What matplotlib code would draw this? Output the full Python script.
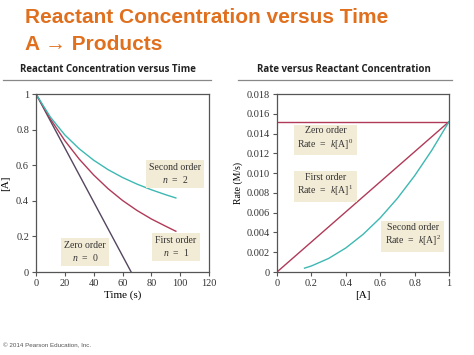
import matplotlib.pyplot as plt
from matplotlib.lines import Line2D

# values
t = [0, 10, 20, 30, 40, 50, 60, 70, 80, 90, 97]
zero_t = [0, 66]
zero_A = [1.0, 0.0]
first_A = [1.0, 0.859, 0.738, 0.634, 0.545, 0.468, 0.402, 0.346, 0.298, 0.257, 0.229]
second_A = [1.0, 0.870, 0.770, 0.692, 0.628, 0.575, 0.531, 0.494, 0.462, 0.434, 0.416]

conc = [0, 1]
rate_zero = [0.0152, 0.0152]
rate_first = [0.0, 0.0152]
conc2 = [0.16, 0.2, 0.3, 0.4, 0.5, 0.6, 0.7, 0.8, 0.9, 1.0]
rate_second = [0.00039, 0.00061, 0.00137, 0.00243, 0.0038, 0.00547, 0.00745, 0.00973, 0.01231, 0.0152]

left_yticks = [0, 0.2, 0.4, 0.6, 0.8, 1]
left_ylabels = ['0', '0.2', '0.4', '0.6', '0.8', '1']
left_xticks = [0, 20, 40, 60, 80, 100, 120]
right_yticks = [0, 0.002, 0.004, 0.006, 0.008, 0.010, 0.012, 0.014, 0.016, 0.018]
right_ylabels = ['0', '0.002', '0.004', '0.006', '0.008', '0.010', '0.012', '0.014', '0.016', '0.018']
right_xticks = [0, 0.2, 0.4, 0.6, 0.8, 1]
right_xlabels = ['0', '0.2', '0.4', '0.6', '0.8', '1']

ORANGE = '#e0701e'
TEAL = '#3db8b2'
MAROON = '#b03a58'
PURPLE = '#55465f'
BOX = dict(boxstyle='square,pad=0.35', facecolor='#f2ebd6', edgecolor='none')
SERIF = 'Liberation Serif'

plt.rcParams['mathtext.fontset'] = 'custom'
plt.rcParams['mathtext.rm'] = SERIF
plt.rcParams['mathtext.it'] = SERIF + ':italic'

fig = plt.figure(figsize=(4.74, 3.55), dpi=100)

fig.text(25 / 474, 1 - 23 / 355, 'Reactant Concentration versus Time', color=ORANGE,
         fontsize=15, fontweight='bold', family='Liberation Sans', va='baseline')
fig.text(25 / 474, 1 - 50 / 355, 'A \u2192 Products', color=ORANGE,
         fontsize=15, fontweight='bold', family='Liberation Sans', va='baseline')

fig.text(108 / 474, 1 - 70 / 355, 'Reactant Concentration versus Time', fontsize=7,
         fontweight='bold', family='Open Sans', ha='center', va='center', color='#222222')
fig.text(344 / 474, 1 - 70 / 355, 'Rate versus Reactant Concentration', fontsize=7,
         fontweight='bold', family='Open Sans', ha='center', va='center', color='#222222')
fig.add_artist(Line2D([3 / 474, 211 / 474], [1 - 80 / 355] * 2, color='#888888', lw=0.9))
fig.add_artist(Line2D([238 / 474, 452 / 474], [1 - 80 / 355] * 2, color='#888888', lw=0.9))

fig.text(3 / 474, 1 - 346 / 355, '\u00a9 2014 Pearson Education, Inc.', fontsize=4.5,
         color='#555555', family='Liberation Sans', va='center')


def style(ax):
    for s in ax.spines.values():
        s.set_color('#555555')
        s.set_linewidth(0.9)
    ax.tick_params(direction='out', length=3, width=0.8, color='#555555',
                   labelsize=7.5, pad=2, labelcolor='#333333')
    for lab in ax.get_xticklabels() + ax.get_yticklabels():
        lab.set_family(SERIF)


# left chart
ax1 = fig.add_axes([36 / 474, 1 - 272 / 355, 173 / 474, 178 / 355])
ax1.plot(zero_t, zero_A, color=PURPLE, lw=1.0)
ax1.plot(t, first_A, color=MAROON, lw=1.0)
ax1.plot(t, second_A, color=TEAL, lw=1.0)
ax1.set_xlim(0, 120)
ax1.set_ylim(0, 1)
ax1.set_xticks(left_xticks)
ax1.set_yticks(left_yticks)
ax1.set_yticklabels(left_ylabels)
ax1.set_xlabel('Time (s)', family=SERIF, fontsize=8, labelpad=2)
ax1.set_ylabel('[A]', family=SERIF, fontsize=8, labelpad=4)
style(ax1)
kw = dict(family=SERIF, fontsize=7, ha='center', va='center', bbox=BOX,
          linespacing=1.2, color='#333333')
ax1.text(96.4, 0.55, 'Second order\n$n$  =  2', **kw)
ax1.text(97, 0.14, 'First order\n$n$  =  1', **kw)
ax1.text(34, 0.112, 'Zero order\n$n$  =  0', **kw)

# right chart
ax2 = fig.add_axes([277 / 474, 1 - 272 / 355, 172 / 474, 178 / 355])
ax2.plot(conc, rate_zero, color=MAROON, lw=1.0)
ax2.plot(conc, rate_first, color=MAROON, lw=1.0)
ax2.plot(conc2, rate_second, color=TEAL, lw=1.0)
ax2.set_xlim(0, 1)
ax2.set_ylim(0, 0.018)
ax2.set_xticks(right_xticks)
ax2.set_xticklabels(right_xlabels)
ax2.set_yticks(right_yticks)
ax2.set_yticklabels(right_ylabels)
ax2.set_xlabel('[A]', family=SERIF, fontsize=8, labelpad=2)
ax2.set_ylabel('Rate (M/s)', family=SERIF, fontsize=7, labelpad=3)
style(ax2)
ax2.text(0.282, 0.01345, 'Zero order\nRate  =  $k$[A]$^0$', **kw)
ax2.text(0.282, 0.00875, 'First order\nRate  =  $k$[A]$^1$', **kw)
ax2.text(0.79, 0.00369, 'Second order\nRate  =  $k$[A]$^2$', **kw)

fig.savefig('out.png', dpi=100)
